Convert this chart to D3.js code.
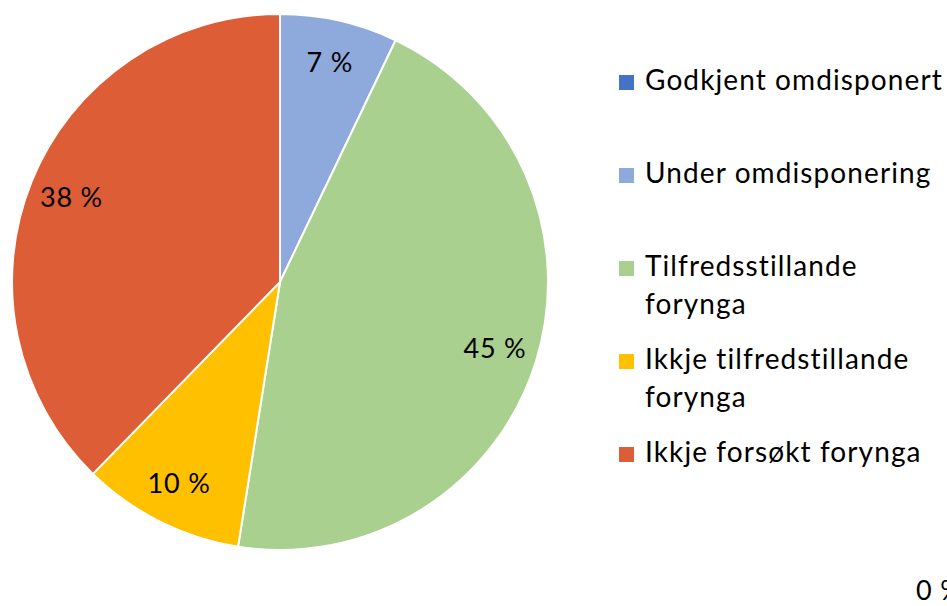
<!DOCTYPE html>
<html>
<head>
<meta charset="utf-8">
<script src="https://cdn.jsdelivr.net/npm/d3@7"></script>
<style>
	body { margin: 0; background: #fff; }
	svg { display: block; font-family: Lato, "Open Sans", sans-serif; }
</style>
</head>
<body>
<svg id="chart" width="947" height="606"></svg>
<script>
// Chart data (shares in %; labels show them rounded)
var categories = ['Godkjent omdisponert', 'Under omdisponering', 'Tilfredsstillande forynga',
	'Ikkje tilfredstillande forynga', 'Ikkje forsøkt forynga'];
var legendLines = [['Godkjent omdisponert'], ['Under omdisponering'], ['Tilfredsstillande', 'forynga'],
	['Ikkje tilfredstillande', 'forynga'], ['Ikkje forsøkt forynga']];
var values = [0, 7.1, 45.4, 9.8, 37.7];
var colors = ['#4472C4', '#8EA9DB', '#A9D08E', '#FFC000', '#DD5D36'];

var width = 947, height = 606;
var cx = 280, cy = 282, radius = 268;

var svg = d3.select('#chart');

var color = d3.scaleOrdinal().domain(categories).range(colors);

var pie = d3.pie()
	.sort(null)
	.value(function(d) { return d.value; });

var data = categories.map(function(c, i) {
	return {name: c, value: values[i], lines: legendLines[i]};
});

var arcs = pie(data);

var arc = d3.arc().innerRadius(0).outerRadius(radius);
var labelArc = d3.arc().innerRadius(radius * 0.84).outerRadius(radius * 0.84);

function pct(v) { return Math.round(v) + ' %'; }

var g = svg.append('g')
	.attr('transform', 'translate(' + cx + ',' + cy + ')');

g.selectAll('path.slice')
	.data(arcs)
	.enter().append('path')
	.attr('class', 'slice')
	.attr('d', arc)
	.attr('fill', function(d) { return color(d.data.name); })
	.attr('stroke', '#fff')
	.attr('stroke-width', 2)
	.attr('stroke-linejoin', 'round');

// data labels (the 0 % one sits off in the corner like in the original)
g.selectAll('text.label')
	.data(arcs.filter(function(d) { return d.data.value > 0; }))
	.enter().append('text')
	.attr('class', 'label')
	.attr('transform', function(d) { return 'translate(' + labelArc.centroid(d) + ')'; })
	.attr('text-anchor', 'middle')
	.attr('dy', '0.35em')
	.style('font-size', '27px')
	.style('letter-spacing', '0.8px')
	.attr('fill', '#000')
	.text(function(d) { return pct(d.data.value); });

svg.selectAll('text.zero')
	.data(arcs.filter(function(d) { return d.data.value === 0; }))
	.enter().append('text')
	.attr('class', 'zero')
	.attr('x', 916)
	.attr('y', 600)
	.style('font-size', '27px')
	.style('letter-spacing', '0.8px')
	.attr('fill', '#000')
	.text(function(d) { return pct(d.data.value); });

// legend, entries spread evenly like Excel does
var ly = d3.scalePoint().domain(categories).range([90, 462]);
var lineH = 38;

var legend = svg.append('g').attr('class', 'legend');
var item = legend.selectAll('g.item')
	.data(data)
	.enter().append('g')
	.attr('class', 'item')
	.attr('transform', function(d) { return 'translate(619,' + ly(d.name) + ')'; });

item.append('rect')
	.attr('x', 0)
	.attr('y', -15)
	.attr('width', 15)
	.attr('height', 15)
	.attr('fill', function(d) { return color(d.name); });

item.append('text')
	.style('font-size', '28px')
	.style('letter-spacing', '1.1px')
	.attr('fill', '#000')
	.selectAll('tspan')
	.data(function(d) { return d.lines; })
	.enter().append('tspan')
	.attr('x', 26)
	.attr('y', function(d, i) { return i * lineH; })
	.text(function(d) { return d; });
</script>
</body>
</html>
